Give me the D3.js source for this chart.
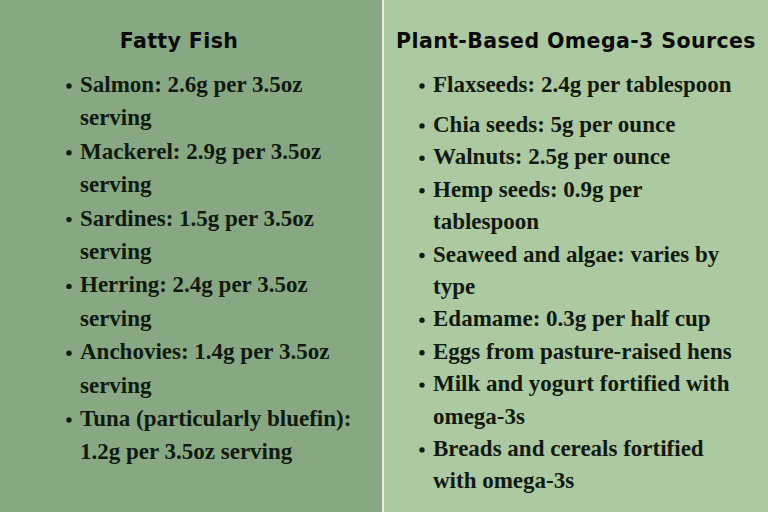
<!DOCTYPE html>
<html><head><meta charset="utf-8">
<script src="https://cdn.jsdelivr.net/npm/d3@7"></script>
<style>body{margin:0}svg{display:block}</style></head>
<body><script>
const panelTitles = ["Fatty Fish", "Plant-Based Omega-3 Sources"];
const fishItems = [
  ["Salmon: 2.6g per 3.5oz", "serving"],
  ["Mackerel: 2.9g per 3.5oz", "serving"],
  ["Sardines: 1.5g per 3.5oz", "serving"],
  ["Herring: 2.4g per 3.5oz", "serving"],
  ["Anchovies: 1.4g per 3.5oz", "serving"],
  ["Tuna (particularly bluefin):", "1.2g per 3.5oz serving"]
];
const plantItems = [
  ["Flaxseeds: 2.4g per tablespoon"],
  ["Chia seeds: 5g per ounce"],
  ["Walnuts: 2.5g per ounce"],
  ["Hemp seeds: 0.9g per", "tablespoon"],
  ["Seaweed and algae: varies by", "type"],
  ["Edamame: 0.3g per half cup"],
  ["Eggs from pasture-raised hens"],
  ["Milk and yogurt fortified with", "omega-3s"],
  ["Breads and cereals fortified", "with omega-3s"]
];
const W=768,H=512;
const svg=d3.select("body").append("svg").attr("width",W).attr("height",H);
svg.append("rect").attr("width",383).attr("height",H).attr("fill","#87a883");
svg.append("rect").attr("x",383).attr("width",W-383).attr("height",H).attr("fill","#adc9a2");
svg.append("rect").attr("x",382).attr("width",2).attr("height",H).attr("fill","#e6eee2");
const tf="'DejaVu Sans', sans-serif";
svg.selectAll("text.t").data(panelTitles).join("text").attr("class","t")
 .attr("x",(d,i)=>i?576:179).attr("y",48).attr("text-anchor","middle")
 .attr("font-family",tf).attr("font-weight","bold").attr("font-size",20.5)
 .attr("letter-spacing",0.4).attr("fill","#0a0a0a").text(d=>d);
function list(items,x0,y0,step,extra){
  let y=y0; const g=svg.append("g");
  items.forEach((lines,k)=>{
    g.append("circle").attr("cx",x0-11).attr("cy",y-6).attr("r",2.7).attr("fill","#111a11");
    lines.forEach((l,j)=>{
      g.append("text").attr("x",x0).attr("y",y).attr("font-family","'Liberation Serif',serif")
        .attr("font-weight","bold").attr("font-size",23).attr("fill","#111a11").text(l);
      y+=step;
    });
    if(extra && k===0) y+=extra;
  });
}
list(fishItems,80,92,33.4,0);
list(plantItems,433,92,32.4,7.5);
</script></body></html>
